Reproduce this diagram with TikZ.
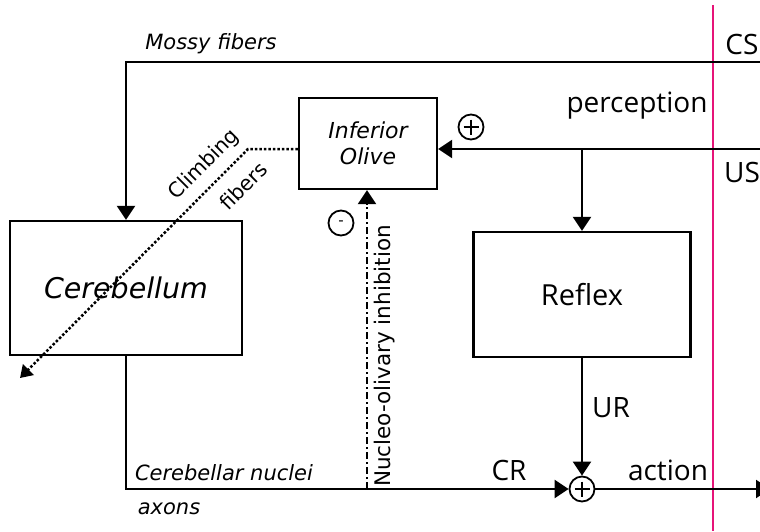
\documentclass[tikz,border=0pt]{standalone}
\usepackage{fontspec}
\setmainfont{DejaVu Sans}
\newfontfamily\labelfont{Open Sans}
\usetikzlibrary{arrows.meta,calc}
\definecolor{stimline}{RGB}{230,20,120}

\begin{document}
\begin{tikzpicture}[x=1pt,y=-1pt,
		box/.style={draw,line width=2.3pt,inner sep=0pt},
		sig/.style={line width=2.3pt},
		tip/.style={-{Triangle[width=18pt,length=14pt]}},
		signnode/.style={circle,draw,line width=1.8pt,minimum size=25pt,inner sep=0pt},
		plusnode/.style={signnode,path picture={
				\draw[line width=1.3pt] ($(path picture bounding box.west)!0.2!(path picture bounding box.east)$)
				-- ($(path picture bounding box.west)!0.8!(path picture bounding box.east)$)
				($(path picture bounding box.north)!0.2!(path picture bounding box.south)$)
				-- ($(path picture bounding box.north)!0.8!(path picture bounding box.south)$);}},
		lab/.style={font=\labelfont\fontsize{28}{28}\selectfont,inner sep=0pt},
		itlab/.style={font=\itshape\fontsize{21}{21}\selectfont,inner sep=0pt}]
		\useasboundingbox (0,0) rectangle (760,531);
		% Coordinates
		\coordinate (mossyin) at (760,62);
		\coordinate (usin) at (760,149);
		\coordinate (usbranch) at (582,149);
		\coordinate (cfbend) at (248,149);
		\coordinate (cfend) at (20,378);
		\coordinate (nobase) at (367,489);
		\coordinate (actout) at (770,489);
		% Stimulus border
		\draw[stimline,line width=2.3pt] (713,5)--(713,531);
		% Blocks
		\node[box,minimum width=232pt,minimum height=134pt,font=\itshape\fontsize{28.5}{28.5}\selectfont] (cer) at (126,288) {Cerebellum};
		\node[box,minimum width=138pt,minimum height=91pt,align=center,font=\itshape\fontsize{22}{26}\selectfont] (io) at (368,143.5) {Inferior\\Olive};
		\node[box,minimum width=217pt,minimum height=125pt,font=\labelfont\fontsize{29}{29}\selectfont] (reflex) at (582,294.5) {Reflex};
		\node[plusnode] (sum) at (582,489) {};
		% Signs
		\node[plusnode] (plus) at (471,127) {};
		\node[signnode,font=\fontsize{15}{15}\selectfont] (minus) at (341,223) {-};
		% Mossy fibers
		\draw[sig,tip] (mossyin) -| (cer.north);
		\node[itlab] (mossylab) at (211,44) {Mossy fibers};
		\node[lab] (cslab) at (742,44) {CS};
		% US path
		\draw[sig,tip] (usin) -- (usin -| io.east);
		\draw[sig,tip] (usbranch) -- (reflex.north);
		\node[lab] (perclab) at (637,106) {perception};
		\node[lab] (uslab) at (742,172) {US};
		% Climbing fibers
		\draw[line width=2.5pt,dotted,-{Triangle[width=15pt,length=12pt]}] (cfbend -| io.west) -- (cfbend) -- (cfend);
		\node[inner sep=0pt,font=\fontsize{20.5}{20.5}\selectfont,rotate=45] (climblab) at (204,165) {Climbing};
		\node[inner sep=0pt,font=\fontsize{20.5}{20.5}\selectfont,rotate=45] (fiblab) at (243,186) {fibers};
		% Nucleo-olivary inhibition
		\draw[sig,dash pattern=on 7pt off 3pt on 2pt off 3pt,tip] (nobase) -- (nobase |- io.south);
		\node[rotate=90,inner sep=0pt,font=\fontsize{21.5}{21.5}\selectfont] (nolab) at (385,356) {Nucleo-olivary inhibition};
		% Responses
		\draw[sig,tip] (reflex.south) -- (sum.north);
		\draw[sig,tip] (cer.south) |- (sum.west);
		\draw[sig,tip] (sum.east) -- (actout);
		\node[lab] (urlab) at (611,408) {UR};
		\node[lab] (crlab) at (509,470) {CR};
		\node[lab] (actlab) at (668,470) {action};
		\node[itlab] (cnlab) at (224,473) {Cerebellar nuclei};
		\node[itlab] (axlab) at (169,509) {axons};
\end{tikzpicture}
\end{document}
